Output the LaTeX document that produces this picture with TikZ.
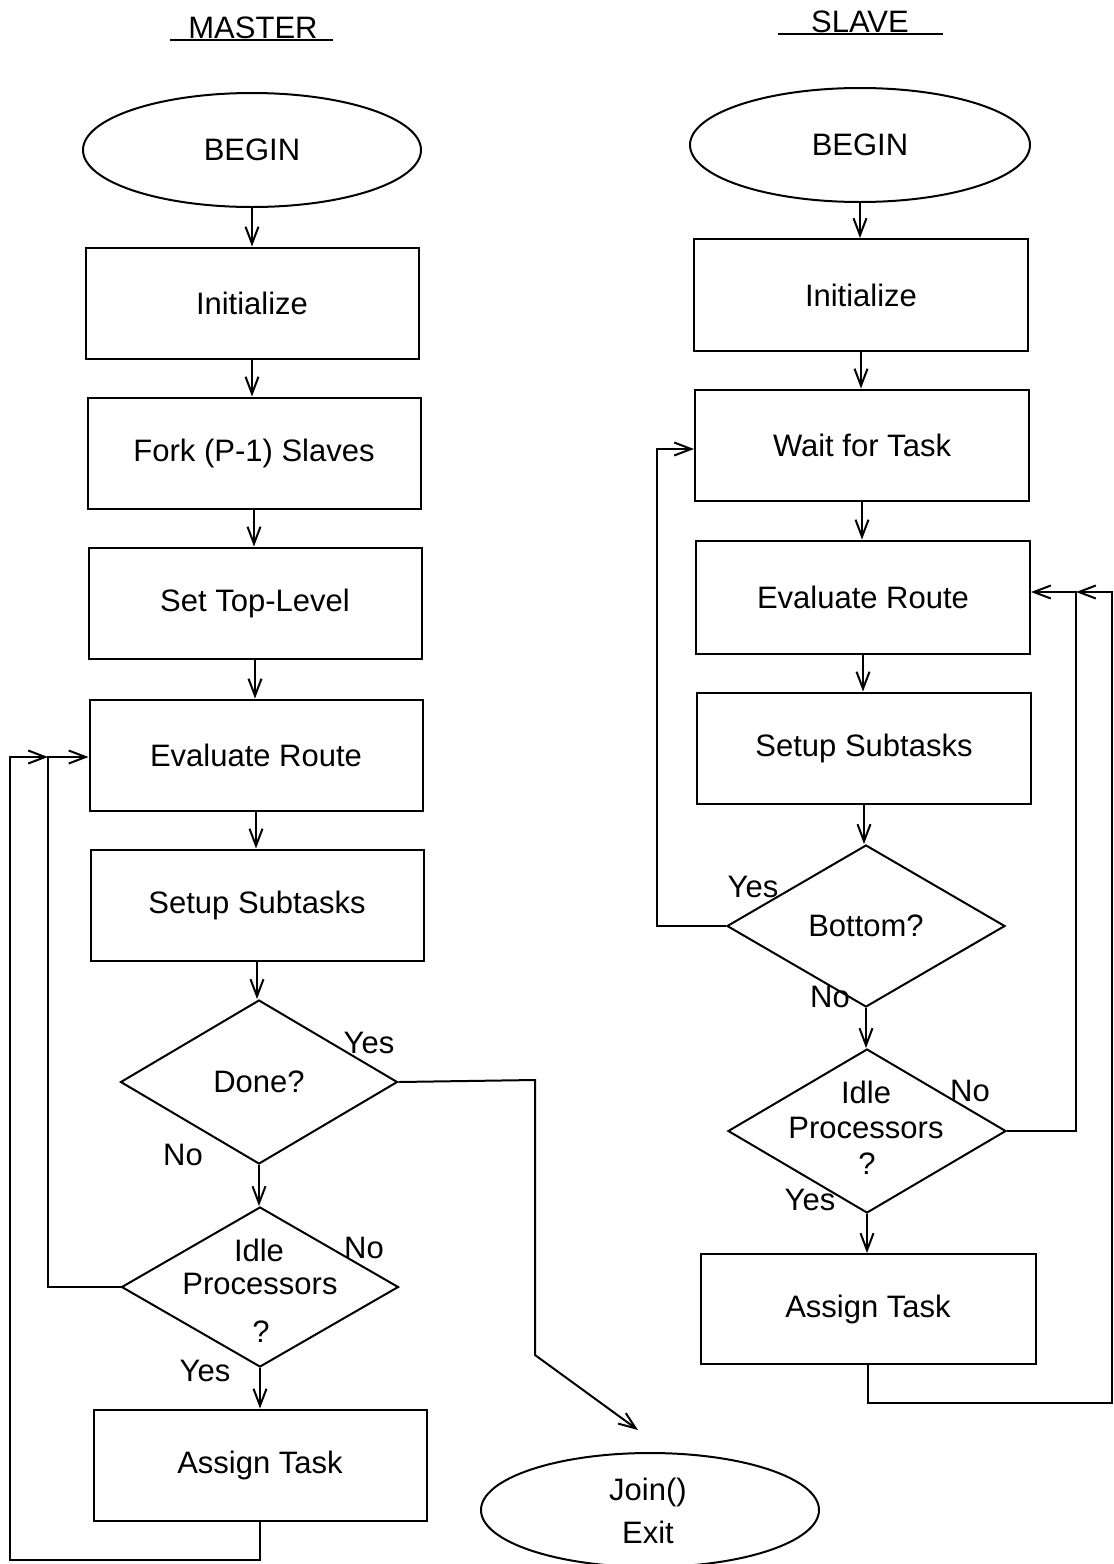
\documentclass[tikz,border=0pt]{standalone}
\usepackage{fontspec}
\setmainfont{Liberation Sans}
\usetikzlibrary{arrows.meta,shapes.geometric,calc}
\begin{document}
\begin{tikzpicture}[x=1pt,y=-1pt,
  every node/.style={font=\fontsize{31}{37}\selectfont},
  ln/.style={line width=2pt},
  arr/.style={ln,-{Straight Barb[length=17pt,width=13pt,line width=2pt]}},
  pbox/.style={draw,line width=2pt,minimum width=333pt,minimum height=111pt,inner sep=0pt},
  oval/.style={draw,ellipse,line width=2pt,minimum width=338pt,minimum height=114pt,inner sep=0pt},
  dia/.style={draw,diamond,line width=2pt,aspect=1.69,minimum width=277pt,minimum height=164pt,inner sep=0pt},
  txt/.style={inner sep=0pt}]
\useasboundingbox (0,0) rectangle (1114,1564);

% ---------------- MASTER ----------------
\node[txt] (mtitle) at (253,28) {MASTER};
\draw[ln] (170,40) -- (333,40);
\node[oval] (mbegin) at (252,150) {BEGIN};
\node[pbox] (minit) at (252,303) {Initialize};
\node[pbox] (mfork) at (254,453) {Fork (P-1) Slaves};
\node[pbox] (mtop) at (255,603) {Set Top-Level};
\node[pbox] (meval) at (256,755) {Evaluate Route};
\node[pbox] (msetup) at (257,905) {Setup Subtasks};
\node[dia] (mdone) at (259,1082) {Done?};
\node[dia,minimum height=160pt,aspect=1.73] (midle) at (260,1287) {};
\node[txt] (midlet1) at (259,1250) {Idle};
\node[txt] (midlet2) at (260,1284) {Processors};
\node[txt] (midlet3) at (261,1332) {?};
\node[pbox] (massign) at (260,1465) {Assign Task};
\node[oval] (mjoin) at (650,1510) {};
\node[txt] (mjoint1) at (648,1492) {Join()};
\node[txt] (mjoint2) at (648,1532) {Exit};

\draw[arr] (mbegin.south) -- (mbegin.south |- minit.north);
\draw[arr] (minit.south) -- (minit.south |- mfork.north);
\draw[arr] (mfork.south) -- (mfork.south |- mtop.north);
\draw[arr] (mtop.south) -- (mtop.south |- meval.north);
\draw[arr] (meval.south) -- (meval.south |- msetup.north);
\draw[arr] (msetup.south) -- (msetup.south |- mdone.north);
\draw[arr] (mdone.south) -- (mdone.south |- midle.north);
\draw[arr] (midle.south) -- (midle.south |- massign.north);

\coordinate (mj) at (48,757);
\draw[arr] (mdone.east) -- (535,1080) -- (535,1355) -- (638,1430);
\draw[arr] (midle.west) -- (mj |- midle.west) -- (mj) -- (meval.west |- mj);
\draw[arr] (massign.south) -- (massign.south |- 0,1560) -- (10,1560) -- (10,757) -- (mj);

\node[txt] (myes1) at (369,1043) {Yes};
\node[txt] (mno1) at (183,1155) {No};
\node[txt] (mno2) at (364,1248) {No};
\node[txt] (myes2) at (205,1371) {Yes};

% ---------------- SLAVE ----------------
\node[txt] (stitle) at (860,22) {SLAVE};
\draw[ln] (778,34) -- (943,34);
\node[oval,minimum width=340pt] (sbegin) at (860,145) {BEGIN};
\node[pbox,minimum width=334pt,minimum height=112pt] (sinit) at (861,295) {Initialize};
\node[pbox,minimum width=334pt] (swait) at (862,445) {Wait for Task};
\node[pbox,minimum width=334pt,minimum height=113pt] (seval) at (863,597) {Evaluate Route};
\node[pbox,minimum width=334pt] (ssetup) at (864,748) {Setup Subtasks};
\node[dia,minimum width=278pt,minimum height=162pt,aspect=1.72] (sbottom) at (866,926) {Bottom?};
\node[dia,minimum width=278pt,minimum height=164pt,aspect=1.70] (sidle) at (867,1131) {};
\node[txt] (sidlet1) at (866,1092) {Idle};
\node[txt] (sidlet2) at (866,1128) {Processors};
\node[txt] (sidlet3) at (867,1164) {?};
\node[pbox,minimum width=335pt,minimum height=110pt] (sassign) at (868,1309) {Assign Task};

\draw[arr] (sbegin.south) -- (sbegin.south |- sinit.north);
\draw[arr] (sinit.south) -- (sinit.south |- swait.north);
\draw[arr] (swait.south) -- (swait.south |- seval.north);
\draw[arr] (seval.south) -- (seval.south |- ssetup.north);
\draw[arr] (ssetup.south) -- (ssetup.south |- sbottom.north);
\draw[arr] (sbottom.south) -- (sbottom.south |- sidle.north);
\draw[arr] (sidle.south) -- (sidle.south |- sassign.north);

\coordinate (sj) at (1076,592);
\draw[arr] (sbottom.west) -- (657,926) -- (657,449) -- (swait.west |- 0,449);
\draw[arr] (sidle.east) -- (sj |- sidle.east) -- (sj) -- (seval.east |- sj);
\draw[arr] (sassign.south) -- (sassign.south |- 0,1403) -- (1112,1403) -- (1112,592) -- (sj);

\node[txt] (syes1) at (753,887) {Yes};
\node[txt] (sno1) at (830,997) {No};
\node[txt] (sno2) at (970,1091) {No};
\node[txt] (syes2) at (810,1200) {Yes};
\end{tikzpicture}
\end{document}
